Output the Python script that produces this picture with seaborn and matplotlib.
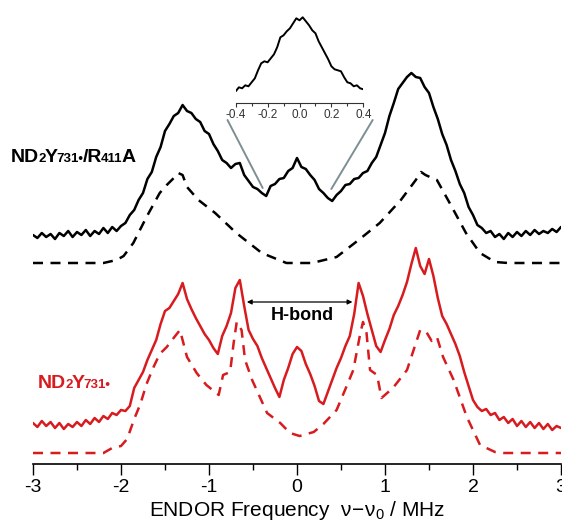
import numpy as np
import matplotlib
matplotlib.use("Agg")
import matplotlib.pyplot as plt
import seaborn as sns
from matplotlib.ticker import MultipleLocator

# ENDOR spectra (intensity in arbitrary units, traces already offset)
freq = np.round(np.arange(-3.0, 3.0001, 0.05), 2)

r411a_exp = [229, 226, 231, 227, 230, 225, 231, 228, 233, 227,
             232, 229, 234, 228, 233, 230, 236, 231, 237, 233,
             238, 241, 249, 254, 264, 271, 285, 292, 307, 317,
             333, 340, 348, 351, 359, 353, 351, 345, 342, 333,
             330, 320, 313, 304, 301, 296, 300, 301, 289, 283,
             277, 275, 271, 268, 278, 280, 285, 286, 293, 296,
             306, 297, 295, 289, 284, 275, 271, 266, 263, 269,
             273, 279, 280, 285, 286, 291, 293, 301, 307, 319,
             331, 348, 361, 375, 381, 387, 391, 387, 386, 377,
             371, 357, 345, 330, 319, 304, 293, 280, 271, 257,
             249, 239, 236, 231, 233, 227, 230, 225, 231, 227,
             232, 228, 233, 229, 234, 230, 233, 231, 235, 232,
             237]

wt_exp = [41, 37, 43, 38, 42, 36, 41, 35, 40, 37,
          42, 38, 44, 40, 46, 42, 48, 45, 51, 49,
          54, 53, 58, 76, 84, 92, 104, 114, 124, 140,
          153, 156, 163, 170, 181, 165, 155, 146, 138, 130,
          124, 116, 110, 128, 138, 151, 176, 184, 158, 134,
          125, 118, 106, 96, 86, 76, 67, 84, 96, 110,
          117, 113, 100, 90, 78, 63, 60, 72, 84, 96,
          106, 118, 128, 150, 181, 168, 150, 134, 118, 112,
          124, 135, 149, 158, 169, 182, 200, 216, 198, 190,
          205, 188, 166, 148, 140, 130, 120, 108, 92, 78,
          64, 57, 53, 55, 49, 51, 44, 47, 41, 45,
          38, 43, 37, 42, 36, 41, 35, 40, 34, 38,
          36]

# simulations
r411a_sim_x = [-3.0, -2.2, -2.05, -1.97, -1.86, -1.71, -1.56, -1.48, -1.40, -1.35,
               -1.30, -1.25, -1.12, -0.93, -0.69, -0.40, -0.12, 0.17, 0.45, 0.70,
               0.94, 1.18, 1.35, 1.41, 1.46, 1.51, 1.59, 1.76, 1.92, 2.08,
               2.25, 2.4, 3.0]
r411a_sim = [201, 201, 204, 208, 221, 247, 271, 279, 286, 291,
             289, 277, 264, 251, 231, 211, 201, 201, 207, 224,
             241, 264, 284, 292, 289, 287, 284, 257, 231, 211,
             202, 201, 201]

wt_sim_x = [-3.0, -2.2, -2.1, -2.0, -1.93, -1.85, -1.78, -1.71, -1.63, -1.56,
            -1.48, -1.42, -1.33, -1.25, -1.14, -1.03, -0.89, -0.84, -0.76, -0.72,
            -0.685, -0.63, -0.59, -0.51, -0.34, -0.19, -0.08, 0.03, 0.19, 0.30,
            0.45, 0.56, 0.64, 0.72, 0.75, 0.79, 0.83, 0.91, 0.96, 1.09,
            1.25, 1.40, 1.47, 1.53, 1.59, 1.66, 1.78, 1.93, 2.08, 2.25,
            2.35, 3.0]
wt_sim = [11, 11, 16, 18, 25, 45, 60, 80, 97, 110,
          117, 124, 134, 107, 91, 79, 69, 89, 92, 121,
          142, 134, 104, 84, 51, 41, 31, 28, 32, 40,
          54, 77, 94, 131, 142, 131, 94, 89, 66, 76,
          94, 134, 132, 123, 127, 107, 84, 47, 19, 12,
          11, 11]

# inset: zoom of the central line
inset_freq = np.round(np.arange(-0.4, 0.4001, 0.02), 2)
inset_exp = [12, 16, 15, 18, 17, 21, 25, 33, 40, 42,
             41, 45, 49, 56, 66, 68, 72, 75, 80, 85,
             83, 86, 82, 78, 73, 70, 62, 56, 50, 44,
             37, 34, 33, 32, 26, 21, 20, 17, 18, 15,
             14]

red = "#d81b1f"

sns.set_theme(style="white")
plt.rcParams['font.family'] = ['Liberation Sans', 'DejaVu Sans']
plt.rcParams['axes.unicode_minus'] = False
plt.rcParams['text.color'] = 'black'
plt.rcParams['xtick.color'] = 'black'
plt.rcParams['axes.labelcolor'] = 'black'

fig = plt.figure(figsize=(5.62, 5.25), dpi=100)
ax = fig.add_axes([33 / 562, 1 - 464 / 525, 528 / 562, 464 / 525])

sns.lineplot(x=freq, y=r411a_exp, ax=ax, color="black", linewidth=1.8, estimator=None)
sns.lineplot(x=r411a_sim_x, y=r411a_sim, ax=ax, color="black", linewidth=1.8,
             linestyle=(0, (4, 3)), estimator=None)
sns.lineplot(x=freq, y=wt_exp, ax=ax, color=red, linewidth=1.8, estimator=None)
sns.lineplot(x=wt_sim_x, y=wt_sim, ax=ax, color=red, linewidth=1.8,
             linestyle=(0, (4, 3)), estimator=None)

ax.set_xlim(-3, 3)
ax.set_ylim(0, 464)
sns.despine(ax=ax, left=True)
ax.set_yticks([])
ax.xaxis.set_major_locator(MultipleLocator(1))
ax.xaxis.set_minor_locator(MultipleLocator(0.5))
ax.tick_params(axis="x", which="major", direction="out", length=8, width=1,
               labelsize=14, color="black", labelcolor="black", pad=3, bottom=True)
ax.tick_params(axis="x", which="minor", direction="out", length=4.5, width=1,
               color="black", bottom=True)
ax.spines["bottom"].set_color("black")
ax.spines["bottom"].set_linewidth(1.2)
ax.set_xlabel(r"ENDOR Frequency  $\mathregular{\nu\!-\!\nu_0}$ / MHz",
              fontsize=15, color="black", labelpad=2)

# H-bond marker
ax.annotate("", xy=(-0.57, 162), xytext=(0.63, 162),
            arrowprops=dict(arrowstyle="<|-|>", color="black", lw=0.9,
                            mutation_scale=7, shrinkA=0, shrinkB=0))
ax.text(0.06, 148, "H-bond", fontsize=13, fontweight="bold", color="black",
        ha="center", va="center")

# connectors to the inset
grey = "#7d8f93"
ax.plot([-0.79, -0.39], [344, 276], color=grey, lw=1.4)
ax.plot([0.86, 0.39], [344, 275], color=grey, lw=1.4)

renderer = fig.canvas.get_renderer()


def sample_label(parts, color, x, y):
    # pieces of different size sharing one baseline, placed side by side
    for t, s in parts:
        txt = fig.text(x / 562, y / 525, t, fontsize=s, fontweight="bold",
                       color=color, ha="left", va="baseline")
        x += txt.get_window_extent(renderer).width - 1.0


big, small = 14, 9.5
sample_label([("ND", big), ("2", small), ("Y", big), ("731•", small),
              ("/R", big), ("411", small), ("A", big)], "black", 11, 525 - 162)
sample_label([("ND", big), ("2", small), ("Y", big), ("731•", small)], red, 38, 525 - 388)

# inset axes
axin = fig.add_axes([235.7 / 562, 1 - 103.3 / 525, 127.6 / 562, 93 / 525])
sns.lineplot(x=inset_freq, y=inset_exp, ax=axin, color="black", linewidth=1.4, estimator=None)
axin.set_xlim(-0.4, 0.4)
axin.set_ylim(0, 93)
axin.patch.set_alpha(0)
sns.despine(ax=axin, left=True)
axin.set_yticks([])
axin.set_xticks([-0.4, -0.2, 0.0, 0.2, 0.4])
axin.set_xticklabels(["-0.4", "-0.2", "0.0", "0.2", "0.4"])
axin.xaxis.set_minor_locator(MultipleLocator(0.1))
axin.tick_params(axis="x", which="major", direction="out", length=3, width=0.8,
                 labelsize=8.5, labelcolor="#333333", color="#333333", pad=1, bottom=True)
axin.tick_params(axis="x", which="minor", direction="out", length=2, width=0.8,
                 color="#333333", bottom=True)
axin.spines["bottom"].set_linewidth(0.8)
axin.spines["bottom"].set_color("#333333")

fig.savefig("out.png", dpi=100)
